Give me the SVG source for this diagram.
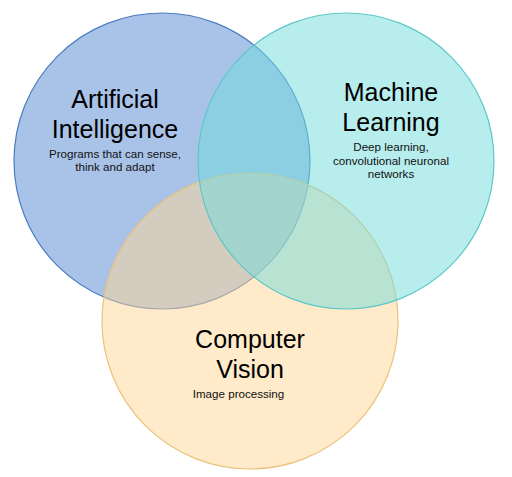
<svg xmlns="http://www.w3.org/2000/svg" width="512" height="477" viewBox="0 0 512 477">
<style>
.c{stroke-width:1.2}
.t{font-family:"Liberation Sans",Arial,sans-serif;font-size:25px;fill:#000;text-anchor:middle}
.s{font-family:"Liberation Sans",Arial,sans-serif;font-size:11.6px;fill:#111;text-anchor:middle}
</style>
<rect width="512" height="477" fill="#fff"/>
<g id="ai">
<circle class="c" cx="162" cy="161" r="148" fill="#5388D2" fill-opacity="0.5" stroke="#4A7CC0"/>
</g>
<g id="cv">
<circle class="c" cx="250" cy="321" r="148" fill="#FFD596" fill-opacity="0.5" stroke="#EBC27A"/>
</g>
<g id="ml">
<circle class="c" cx="346" cy="161" r="148" fill="#72DCDC" fill-opacity="0.5" stroke="#5CC8C8"/>
</g>
<g id="labels">
<text class="t" x="115" y="108">Artificial</text>
<text class="t" x="115" y="138">Intelligence</text>
<text class="s" x="115" y="158">Programs that can sense,</text>
<text class="s" x="115" y="171">think and adapt</text>
<text class="t" x="391" y="101">Machine</text>
<text class="t" x="391" y="131">Learning</text>
<text class="s" x="391" y="151">Deep learning,</text>
<text class="s" x="391" y="165">convolutional neuronal</text>
<text class="s" x="391" y="178">networks</text>
<text class="t" x="250" y="348">Computer</text>
<text class="t" x="250" y="378">Vision</text>
<text class="s" x="238.5" y="398">Image processing</text>
</g>
</svg>
